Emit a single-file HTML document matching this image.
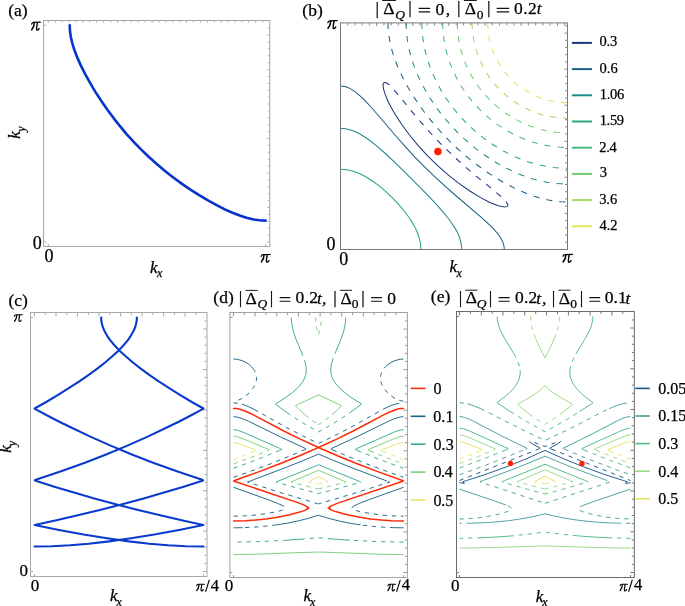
<!DOCTYPE html>
<html><head><meta charset="utf-8"><style>
html,body{margin:0;padding:0;background:#fff;}
svg{display:block;will-change:transform;}
</style></head><body>
<svg width="685" height="606" viewBox="0 0 685 606">
<defs><symbol id="pi" viewBox="0.1 0.02 10.1 8.88" preserveAspectRatio="none" overflow="visible"><g fill="none" stroke="#000" stroke-linecap="round"><path d="M0.7 2.45 C0.95 1.5 1.6 0.8 2.6 0.72 L9.6 0.62" stroke-width="1.2"/>
<path d="M3.5 1.0 C3.45 3.3 2.7 5.7 0.88 7.95" stroke-width="1.5"/>
<path d="M6.6 1.0 C6.3 3.5 5.65 6.0 5.8 7.5 C5.95 8.6 7.3 8.5 8.35 6.75" stroke-width="1.35"/></g></symbol></defs>
<rect width="685" height="606" fill="#fff"/>
<rect x="43.6" y="20.5" width="226.2" height="225.9" fill="none" stroke="#a4a4a4" stroke-width="1"/>
<path d="M48.3 246.4L48.3 243.9M265.6 246.4L265.6 243.9M43.6 242L46.1 242M43.6 25.3L46.1 25.3M48.3 20.5L48.3 23M269.8 242L267.3 242M55.2 20.5L55.2 22.5M269.8 235.1L267.8 235.1M62.1 20.5L62.1 22.5M269.8 228.2L267.8 228.2M69.1 20.5L69.1 22.5M269.8 221.3L267.8 221.3M76 20.5L76 22.5M269.8 214.4L267.8 214.4M82.9 20.5L82.9 23M269.8 207.5L267.3 207.5M89.8 20.5L89.8 22.5M269.8 200.6L267.8 200.6M96.7 20.5L96.7 22.5M269.8 193.7L267.8 193.7M103.6 20.5L103.6 22.5M269.8 186.8L267.8 186.8M110.6 20.5L110.6 22.5M269.8 179.9L267.8 179.9M117.5 20.5L117.5 23M269.8 173L267.3 173M124.4 20.5L124.4 22.5M269.8 166.1L267.8 166.1M131.3 20.5L131.3 22.5M269.8 159.2L267.8 159.2M138.2 20.5L138.2 22.5M269.8 152.3L267.8 152.3M145.1 20.5L145.1 22.5M269.8 145.4L267.8 145.4M152.1 20.5L152.1 23M269.8 138.5L267.3 138.5M159 20.5L159 22.5M269.8 131.6L267.8 131.6M165.9 20.5L165.9 22.5M269.8 124.7L267.8 124.7M172.8 20.5L172.8 22.5M269.8 117.8L267.8 117.8M179.7 20.5L179.7 22.5M269.8 110.9L267.8 110.9M186.6 20.5L186.6 23M269.8 104L267.3 104M193.6 20.5L193.6 22.5M269.8 97.1L267.8 97.1M200.5 20.5L200.5 22.5M269.8 90.2L267.8 90.2M207.4 20.5L207.4 22.5M269.8 83.4L267.8 83.4M214.3 20.5L214.3 22.5M269.8 76.5L267.8 76.5M221.2 20.5L221.2 23M269.8 69.6L267.3 69.6M228.1 20.5L228.1 22.5M269.8 62.7L267.8 62.7M235.1 20.5L235.1 22.5M269.8 55.8L267.8 55.8M242 20.5L242 22.5M269.8 48.9L267.8 48.9M248.9 20.5L248.9 22.5M269.8 42L267.8 42M255.8 20.5L255.8 23M269.8 35.1L267.3 35.1M262.7 20.5L262.7 22.5M269.8 28.2L267.8 28.2" stroke="#b0b0b0" stroke-width="1.0" fill="none"/>
<path d="M69.7 25.3 70 31.3 70.9 37.2 72.4 43.6 74.5 50.3 77.3 57.6 80.8 65.4 85.2 74.1 89.8 82.4 95.2 91.6 101.2 100.8 107.2 109.4 113.6 118.1 120 126.2 126.8 134.3 133.7 141.8 141 149.4 148.4 156.5 156.2 163.5 164.4 170.5 172.6 177 181.3 183.4 190 189.4 199.2 195.2 208.4 200.7 217.1 205.4 225.3 209.6 233.1 213 240.4 215.8 247.3 218 253.7 219.5 259.6 220.3 265.6 220.6" fill="none" stroke="#0633cc" stroke-width="2.6" stroke-linecap="round" stroke-linejoin="round"/>
<path d="M504.6 207 501.7 206.6 498.3 205.7 493.8 204.1 489.8 202.4 480.2 197.4 469.4 190.7 458.6 183.1 448.4 175.1 438.2 166.1 427.9 156.1 418.4 145.8 409.5 135 401.6 124.3 394.6 113.5 391.4 107.8 388.7 102.7 386.5 97.8 384.9 93.7 383.7 89.7 383.1 86.3 383.2 84.1 383.6 83 383.9 82.8" fill="none" stroke="#1a367c" stroke-width="1.05"/>
<path d="M383.9 82.8 384.8 82.5 385.4 82.5 387.1 83.3 389.3 85.1 392.7 88.5 397.8 94.3 414 114.1 423.2 124.8 433.4 136.2 443.8 146.9 454.1 156.7 465.4 166.9 476.2 176.1 496 192.2 501.9 197.3 505.3 200.7 507 203 507.8 204.7 507.9 205.2 507.6 206.1" fill="none" stroke="#1a367c" stroke-width="1.05" stroke-dasharray="6.2 7"/>
<path d="M507.6 206.1 507.3 206.4 506.3 206.8 504.6 207" fill="none" stroke="#1a367c" stroke-width="1.05"/>
<path d="M504.3 249.4 504.1 247.1 503.6 244.3 502.5 241.5 501.1 238.6 499.3 235.8 497.1 233 494.2 229.6 490.9 226.2 480.5 216.6 456.3 196 445 186.1 434.2 176.2 424 166.3 414.9 157.1 405.5 146.9 395 135 372.3 108.5 366 101.7 360.9 96.6 355.3 91.9 350.2 88.6 347.3 87.3 345 86.6 342.8 86.2 340.5 86" fill="none" stroke="#1a6386" stroke-width="1.05"/>
<path d="M388 22.9 388.2 29.7 389 36.5 390.2 43.3 391.9 50.1 394.2 57.4 396.9 64.8 399.9 71.6 403.7 79.5 408.1 87.5 412.8 95.4 418 103.3 423.7 111.2 429.8 119.2 436 126.5 442.6 133.9 449.1 140.7 456.2 147.5 463.1 153.7 470.5 159.9 478.5 166 486.4 171.7 494.4 176.9 502.3 181.7 510.3 186 517.6 189.7 525.6 193.1 533 195.9 540.3 198.2 547.2 199.8 554 201.1 560.8 201.8 567.6 202.1" fill="none" stroke="#1a6386" stroke-width="1.05" stroke-dasharray="6.2 7"/>
<path d="M461.7 249.4 461.6 246.6 461.1 243.2 460.3 239.8 459.1 236.4 457.7 233 455.9 229.6 451.2 222.2 445 214.3 437.1 205.2 426.4 193.9 411.3 178.6 396.1 163.7 384.8 153 375.7 145.1 367.8 139 360.4 134.3 357 132.6 353.6 131.1 350.2 129.9 346.7 129.1 343.3 128.6 340.5 128.5" fill="none" stroke="#218a8a" stroke-width="1.05"/>
<path d="M406.1 22.9 406.3 29.7 406.9 36.5 407.9 43.3 409.4 50.6 411.2 57.4 413.6 64.8 416.2 71.6 419.5 79 423.2 86.3 427 93.1 431.2 99.9 435.8 106.7 440.8 113.5 445.9 119.7 451.4 126 457.5 132.3 463.7 138.3 469.9 143.8 476.2 148.9 483 154 489.8 158.6 497.2 163.2 504 167 511.4 170.6 518.8 173.9 525.6 176.5 533 178.9 539.8 180.7 547.2 182.2 554 183.2 560.8 183.8 567.6 184" fill="none" stroke="#218a8a" stroke-width="1.05" stroke-dasharray="6.2 7"/>
<path d="M420.8 249.4 420.5 243.7 419.1 237.5 416.9 231.3 413.8 225.1 409.6 218.3 404.6 211.5 398.9 204.7 392.2 197.6 385.4 191.2 378.5 185.4 371.7 180.5 364.9 176.3 358.7 173.2 352.4 171 346.2 169.7 340.5 169.3" fill="none" stroke="#2ca585" stroke-width="1.05"/>
<path d="M421.8 22.9 422 29.7 422.6 36.5 423.6 43.3 424.8 49.5 426.5 56.3 428.4 62.5 430.9 69.3 433.5 75.6 436.5 81.8 439.8 88 443.5 94.2 447.6 100.5 452.1 106.7 456.7 112.4 461.4 117.8 466.5 123.2 471.8 128.2 477.3 133.1 483 137.6 489.3 142.2 495.5 146.3 501.7 150.1 508 153.4 514.8 156.7 521 159.3 527.9 161.7 534.1 163.6 540.9 165.3 547.2 166.6 554 167.5 560.8 168.1 567.6 168.3" fill="none" stroke="#2ca585" stroke-width="1.05" stroke-dasharray="6.2 7"/>
<path d="M442.7 22.9 442.9 29.1 443.3 34.8 444.2 41 445.2 46.7 446.6 52.3 448.2 58 450.2 63.7 452.4 69.3 455.1 75 457.7 80.1 460.9 85.5 464.3 90.8 468 95.9 472 101 476 105.6 480.3 110.1 484.7 114.3 489.7 118.6 494.4 122.3 499.5 125.9 504.8 129.4 510.3 132.5 515.4 135.2 521 137.8 526.7 140 532.4 142 538.1 143.6 543.8 145 549.4 146 555.7 146.8 561.4 147.3 567.6 147.5" fill="none" stroke="#4bb97a" stroke-width="1.05" stroke-dasharray="6.2 7"/>
<path d="M457.3 22.9 457.5 28.6 457.9 33.7 458.6 38.8 459.5 43.9 460.6 48.9 462.1 54 463.8 59.1 465.8 64.2 468.1 69.3 470.4 73.9 473.4 78.9 476.2 83.4 479.5 88 482.7 92 486.1 95.9 489.8 99.9 493.8 103.7 497.9 107.3 502.3 110.7 506.9 114 511.4 116.9 515.9 119.5 520.8 122 525.7 124.3 530.7 126.2 535.8 128 540.9 129.4 546.6 130.7 551.7 131.7 556.8 132.3 561.9 132.7 567.6 132.9" fill="none" stroke="#6ecb72" stroke-width="1.05" stroke-dasharray="6.2 7"/>
<path d="M472.1 22.9 472.2 28 472.6 32.5 474 41.6 476.3 50.6 479.4 59.1 483.5 67.6 488.3 75.6 493.8 82.9 497.2 86.8 500.5 90.3 507.4 96.5 514.8 102 522.7 106.8 531.3 110.9 539.8 114 548.9 116.3 557.9 117.7 562.5 118 567.6 118.2" fill="none" stroke="#a8d865" stroke-width="1.05" stroke-dasharray="6.2 7"/>
<path d="M487.6 22.9 488 30.8 489.2 38.8 491.1 46.1 493.7 53.5 497.2 60.7 501.2 67.2 506.2 73.9 511.4 79.5 517.6 85.1 523.9 89.6 530.7 93.6 537.5 96.8 544.9 99.4 552.3 101.2 559.7 102.3 567.6 102.7" fill="none" stroke="#e8e35a" stroke-width="1.05" stroke-dasharray="6.2 7"/>
<circle cx="437.9" cy="151.6" r="3.8" fill="#ff2200"/>
<rect x="340.5" y="22.9" width="227.0" height="226.6" fill="none" stroke="#787878" stroke-width="1"/>
<path d="M347.7 22.9L347.7 25.4M567.5 242.2L565 242.2M355 22.9L355 25.4M567.5 235L565 235M362.2 22.9L362.2 25.4M567.5 227.8L565 227.8M369.4 22.9L369.4 25.4M567.5 220.6L565 220.6M376.6 22.9L376.6 25.9M567.5 213.4L564.5 213.4M383.9 22.9L383.9 25.4M567.5 206.1L565 206.1M391.1 22.9L391.1 25.4M567.5 198.9L565 198.9M398.3 22.9L398.3 25.4M567.5 191.7L565 191.7M405.6 22.9L405.6 25.4M567.5 184.5L565 184.5M412.8 22.9L412.8 25.9M567.5 177.3L564.5 177.3M420 22.9L420 25.4M567.5 170.1L565 170.1M427.2 22.9L427.2 25.4M567.5 162.9L565 162.9M434.5 22.9L434.5 25.4M567.5 155.7L565 155.7M441.7 22.9L441.7 25.4M567.5 148.5L565 148.5M448.9 22.9L448.9 25.9M567.5 141.3L564.5 141.3M456.2 22.9L456.2 25.4M567.5 134L565 134M463.4 22.9L463.4 25.4M567.5 126.8L565 126.8M470.6 22.9L470.6 25.4M567.5 119.6L565 119.6M477.8 22.9L477.8 25.4M567.5 112.4L565 112.4M485.1 22.9L485.1 25.9M567.5 105.2L564.5 105.2M492.3 22.9L492.3 25.4M567.5 98L565 98M499.5 22.9L499.5 25.4M567.5 90.8L565 90.8M506.8 22.9L506.8 25.4M567.5 83.6L565 83.6M514 22.9L514 25.4M567.5 76.4L565 76.4M521.2 22.9L521.2 25.9M567.5 69.2L564.5 69.2M528.4 22.9L528.4 25.4M567.5 61.9L565 61.9M535.7 22.9L535.7 25.4M567.5 54.7L565 54.7M542.9 22.9L542.9 25.4M567.5 47.5L565 47.5M550.1 22.9L550.1 25.4M567.5 40.3L565 40.3M557.4 22.9L557.4 25.9M567.5 33.1L564.5 33.1M564.6 22.9L564.6 25.4M567.5 25.9L565 25.9" stroke="#888" stroke-width="1.0" fill="none"/>
<line x1="571.9" y1="42.9" x2="591.9" y2="42.9" stroke="#1a367c" stroke-width="2"/>
<line x1="571.9" y1="69.1" x2="591.9" y2="69.1" stroke="#1a6386" stroke-width="2"/>
<line x1="571.9" y1="95.3" x2="591.9" y2="95.3" stroke="#218a8a" stroke-width="2"/>
<line x1="571.9" y1="121.5" x2="591.9" y2="121.5" stroke="#2ca585" stroke-width="2"/>
<line x1="571.9" y1="147.7" x2="591.9" y2="147.7" stroke="#4bb97a" stroke-width="2"/>
<line x1="571.9" y1="173.9" x2="591.9" y2="173.9" stroke="#6ecb72" stroke-width="2"/>
<line x1="571.9" y1="200.1" x2="591.9" y2="200.1" stroke="#a8d865" stroke-width="2"/>
<line x1="571.9" y1="226.3" x2="591.9" y2="226.3" stroke="#e8e35a" stroke-width="2"/>
<rect x="30.5" y="312.5" width="176.5" height="264.0" fill="none" stroke="#a8a8a8" stroke-width="1"/>
<path d="M34.5 576.5L34.5 574M203.5 576.5L203.5 574M30.5 571.5L33 571.5M30.5 317.6L33 317.6M34.5 312.5L34.5 316.5M45.3 312.5L45.3 315M56 312.5L56 316.5M66.8 312.5L66.8 315M77.5 312.5L77.5 316.5M88.3 312.5L88.3 315M99.1 312.5L99.1 316.5M109.8 312.5L109.8 315M120.6 312.5L120.6 316.5M131.3 312.5L131.3 315M142.1 312.5L142.1 316.5M152.8 312.5L152.8 315M163.6 312.5L163.6 316.5M174.4 312.5L174.4 315M185.1 312.5L185.1 316.5M195.9 312.5L195.9 315M207 571.5L203 571.5M207 563.4L204.5 563.4M207 555.3L204.5 555.3M207 547.3L204.5 547.3M207 539.2L204.5 539.2M207 531.1L203 531.1M207 523L204.5 523M207 514.9L204.5 514.9M207 506.8L204.5 506.8M207 498.8L204.5 498.8M207 490.7L203 490.7M207 482.6L204.5 482.6M207 474.5L204.5 474.5M207 466.4L204.5 466.4M207 458.4L204.5 458.4M207 450.3L203 450.3M207 442.2L204.5 442.2M207 434.1L204.5 434.1M207 426L204.5 426M207 417.9L204.5 417.9M207 409.9L203 409.9M207 401.8L204.5 401.8M207 393.7L204.5 393.7M207 385.6L204.5 385.6M207 377.5L204.5 377.5M207 369.5L203 369.5M207 361.4L204.5 361.4M207 353.3L204.5 353.3M207 345.2L204.5 345.2M207 337.1L204.5 337.1M207 329L203 329M207 321L204.5 321" stroke="#aaa" stroke-width="1.0" fill="none"/>
<path d="M34.5 546.5 52.2 546.2 70 545.2 88.7 543.7 109 541.4 131 538.3 154.4 534.5 180.3 529.7 203.4 525 181.6 520.3 159.2 515.1 138.1 510 116.7 504.5 95.2 498.7 74.8 492.8 54.3 486.7 34.9 480.5 35.1 480.1 60.4 471.6 84.9 462.7 106.1 454.4 126.8 445.9 147.7 436.6 167.3 427.3 177.7 422.2 188.4 416.7 201.2 409.8 203 408.8 203.4 408.5 191.8 402 180.3 395.1 169.2 388.2 158.7 381.4 149.3 374.9 140.4 368.4 132.6 362.2 125.7 356.3 119.8 350.9 114.9 345.7 110.5 340.6 107.2 335.8 104.5 331 102.6 326.5 102 324.1 101.5 322.1 101.2 319.7 101.2 317.6" fill="none" stroke="#0a3acc" stroke-width="2.1" stroke-linecap="round" stroke-linejoin="round"/>
<path d="M203.5 546.5 185.8 546.2 168 545.2 149.3 543.7 129 541.4 107 538.3 83.6 534.5 57.7 529.7 34.6 525 56.4 520.3 78.8 515.1 99.9 510 121.3 504.5 142.8 498.7 163.2 492.8 183.7 486.7 203.1 480.5 202.9 480.1 177.6 471.6 153.1 462.7 131.9 454.4 111.2 445.9 90.3 436.6 70.7 427.3 60.3 422.2 49.6 416.7 36.8 409.8 35 408.8 34.6 408.5 46.2 402 57.7 395.1 68.8 388.2 79.3 381.4 88.7 374.9 97.6 368.4 105.4 362.2 112.3 356.3 118.2 350.9 123.1 345.7 127.5 340.6 130.8 335.8 133.5 331 135.4 326.5 136 324.1 136.5 322.1 136.8 319.7 136.8 317.6" fill="none" stroke="#0a3acc" stroke-width="2.1" stroke-linecap="round" stroke-linejoin="round"/>
<path d="M233.5 521.9 245.2 521.6 255.8 520.9 266.4 519.8 277.1 518.2 289.8 515.6 300.6 512.8 304.2 511.6 306.8 510.4 307.8 509.6 307.6 509.2 306.8 509.2" fill="none" stroke="#ff2a08" stroke-width="1.5" stroke-linecap="round" transform="matrix(1 0 0 1.0062 0 -4.13)"/>
<path d="M330.2 509.2 329.4 509.2 329.2 509.6 330.2 510.4 332.8 511.6 336.4 512.8 347.2 515.6 359.9 518.2 370.6 519.8 381.2 520.9 391.8 521.6 403.5 521.9" fill="none" stroke="#ff2a08" stroke-width="1.5" stroke-linecap="round" transform="matrix(1 0 0 1.0062 0 -4.13)"/>
<path d="M233.5 482.1 299.9 504.4 305.8 506.8 307.7 508 308.1 508.8 308 509.2 308.9 509.2" fill="none" stroke="#ff2a08" stroke-width="1.5" stroke-linecap="round" transform="matrix(1 0 0 1.0062 0 -4.13)"/>
<path d="M328.1 509.2 329 509.2 328.9 508.8 329.3 508 331.2 506.8 337.1 504.4 403.5 482.1" fill="none" stroke="#ff2a08" stroke-width="1.5" stroke-linecap="round" transform="matrix(1 0 0 1.0062 0 -4.13)"/>
<path d="M234.6 481.7 257.9 473.3 279.2 465.2 299.5 457 318.5 448.8 337.5 457 357.8 465.2 379.1 473.3 402.4 481.7" fill="none" stroke="#ff2a08" stroke-width="1.5" stroke-linecap="round" transform="matrix(1 0 0 1.0062 0 -4.13)"/>
<path d="M319.6 448.8 319.1 448.6 337.2 440.3 352.7 432.7 382.2 417.2 388.6 414.1 392.9 412.3 397.1 410.8 400.3 410.2 403.5 410" fill="none" stroke="#ff2a08" stroke-width="1.5" stroke-linecap="round" transform="matrix(1 0 0 1.0062 0 -4.13)"/>
<path d="M233.5 410 236.7 410.2 239.9 410.8 244.1 412.3 248.4 414.1 254.8 417.2 284.3 432.7 299.8 440.3 317.9 448.6 317.4 448.8" fill="none" stroke="#ff2a08" stroke-width="1.5" stroke-linecap="round" transform="matrix(1 0 0 1.0062 0 -4.13)"/>
<path d="M403.5 527.8 394.3 527.7" fill="none" stroke="#1a6488" stroke-width="0.95"/>
<path d="M394.3 527.7 376.9 526.8 360.5 524.9" fill="none" stroke="#1a6488" stroke-width="0.95" stroke-dasharray="4.3 4.8"/>
<path d="M360.5 524.9 349.3 523.1 338.7 520.9 328.1 518.2 318.5 515.2 308.9 518.2 298.3 520.9 287.7 523.1 276.5 524.9" fill="none" stroke="#1a6488" stroke-width="0.95"/>
<path d="M276.5 524.9 260.1 526.8 242.7 527.7" fill="none" stroke="#1a6488" stroke-width="0.95" stroke-dasharray="4.3 4.8"/>
<path d="M242.7 527.7 233.5 527.8" fill="none" stroke="#1a6488" stroke-width="0.95"/>
<path d="M233.5 516.2 244.1 515.9 254.8 515.1 266.4 513.6 276 511.8 281.5 510.4 283.5 509.6 284.7 508.8 285.1 508 284.8 507.2 283.8 506.4 282 505.4" fill="none" stroke="#1a6488" stroke-width="0.95" stroke-dasharray="4.3 4.8"/>
<path d="M282 505.4 277.2 503.2 267.9 499.6 233.5 487.3" fill="none" stroke="#1a6488" stroke-width="0.95"/>
<path d="M317.3 503.6 318.5 503.9 351.4 494.2 376.9 486.2 389.5 482.1 387 481.1" fill="none" stroke="#1a6488" stroke-width="0.95" stroke-dasharray="4.3 4.8"/>
<path d="M387 481.1 350.4 467.2 333.9 460.6 318.5 454.1 303.1 460.6 286.6 467.2 250 481.1" fill="none" stroke="#1a6488" stroke-width="0.95"/>
<path d="M250 481.1 247.5 482.1 279.2 492.2 317.3 503.6" fill="none" stroke="#1a6488" stroke-width="0.95" stroke-dasharray="4.3 4.8"/>
<path d="M403.5 487.3 369.1 499.6 359.8 503.2 355 505.4" fill="none" stroke="#1a6488" stroke-width="0.95"/>
<path d="M355 505.4 353.2 506.4 352.2 507.2 351.9 508 352.3 508.8 353.5 509.6 355.5 510.4 361 511.8 370.6 513.6 382.2 515.1 392.9 515.9 403.5 516.2" fill="none" stroke="#1a6488" stroke-width="0.95" stroke-dasharray="4.3 4.8"/>
<path d="M233.5 477.3 251.6 470.9 270.5 463.8 288.4 456.6 304.5 449.8" fill="none" stroke="#1a6488" stroke-width="0.95" stroke-dasharray="4.3 4.8"/>
<path d="M304.5 449.8 306 449 305.8 448.6 280.8 437.1 248.4 421.2 244.1 419.3 239.9 417.8 236.7 417 233.5 416.7" fill="none" stroke="#1a6488" stroke-width="0.95"/>
<path d="M403.5 416.7 400.3 417 397.1 417.8 392.9 419.3 388.6 421.2 356.2 437.1 331.2 448.6 331 449 332.5 449.8" fill="none" stroke="#1a6488" stroke-width="0.95"/>
<path d="M332.5 449.8 348.6 456.6 366.5 463.8 385.4 470.9 403.5 477.3" fill="none" stroke="#1a6488" stroke-width="0.95" stroke-dasharray="4.3 4.8"/>
<path d="M233.5 402.9 237.8 403.3 241.9 404.2" fill="none" stroke="#1a6488" stroke-width="0.95" stroke-dasharray="4.3 4.8"/>
<path d="M241.9 404.2 247.3 406.1 254.2 409.4" fill="none" stroke="#1a6488" stroke-width="0.95"/>
<path d="M254.2 409.4 277.8 422.7 289.5 429.1 303.5 436.3 318.5 443.5 333.5 436.3 347.5 429.1 359.2 422.7 382.8 409.4" fill="none" stroke="#1a6488" stroke-width="0.95" stroke-dasharray="4.3 4.8"/>
<path d="M382.8 409.4 389.7 406.1 395.1 404.2" fill="none" stroke="#1a6488" stroke-width="0.95"/>
<path d="M395.1 404.2 399.2 403.3 403.5 402.9" fill="none" stroke="#1a6488" stroke-width="0.95" stroke-dasharray="4.3 4.8"/>
<path d="M403.5 401.1 401.4 400.9 398.2 400 395.7 398.8 392.9 397.1 389.9 394.9 387.6 392.7 385.3 390.1 383.3 387.3 382 384.9 381.1 382.5 380.6 380.1 380.5 377.7 380.7 375.4 381.4 373 382.5 370.6 384 368.4" fill="none" stroke="#1a6488" stroke-width="0.95" stroke-dasharray="4.3 4.8"/>
<path d="M384 368.4 385.6 366.6 387.8 364.6 390.1 363 392.9 361.5 395.1 360.6 398.2 359.7 400.3 359.3 403.5 359.1" fill="none" stroke="#1a6488" stroke-width="0.95"/>
<path d="M233.5 359.1 236.7 359.3 238.8 359.7 241.9 360.6 244.1 361.5 246.9 363 249.2 364.6 251.4 366.6 253 368.4" fill="none" stroke="#1a6488" stroke-width="0.95"/>
<path d="M253 368.4 254.5 370.6 255.6 373 256.3 375.4 256.5 377.7 256.4 380.1 255.9 382.5 255 384.9 253.7 387.3 251.7 390.1 249.4 392.7 247.1 394.9 244.1 397.1 241.3 398.8 238.8 400 235.6 400.9 233.5 401.1" fill="none" stroke="#1a6488" stroke-width="0.95" stroke-dasharray="4.3 4.8"/>
<path d="M403.5 542.1 378 541.6 349.8 540.2" fill="none" stroke="#37ab8b" stroke-width="0.95" stroke-dasharray="4.3 4.8"/>
<path d="M349.8 540.2 332.1 538.9" fill="none" stroke="#37ab8b" stroke-width="0.95"/>
<path d="M332.1 538.9 318.5 537.8 304.9 538.9" fill="none" stroke="#37ab8b" stroke-width="0.95" stroke-dasharray="4.3 4.8"/>
<path d="M304.9 538.9 287.2 540.2" fill="none" stroke="#37ab8b" stroke-width="0.95"/>
<path d="M287.2 540.2 259 541.6 233.5 542.1" fill="none" stroke="#37ab8b" stroke-width="0.95" stroke-dasharray="4.3 4.8"/>
<path d="M317.1 493.2 318.5 493.6 324.9 492 341.9 487.5 358.9 482.7 361 482.1 358.5 481" fill="none" stroke="#37ab8b" stroke-width="0.95" stroke-dasharray="4.3 4.8"/>
<path d="M358.5 481 318.5 464.8 278.5 481" fill="none" stroke="#37ab8b" stroke-width="0.95"/>
<path d="M278.5 481 276 482.1 296.2 487.8 317.1 493.2" fill="none" stroke="#37ab8b" stroke-width="0.95" stroke-dasharray="4.3 4.8"/>
<path d="M233.5 468.3 257.7 459.4 279.7 450.4" fill="none" stroke="#37ab8b" stroke-width="0.95" stroke-dasharray="4.3 4.8"/>
<path d="M279.7 450.4 281.7 449.4 280.3 448.6 243.1 432.2 237.8 430.3 235.6 429.9 233.5 429.7" fill="none" stroke="#37ab8b" stroke-width="0.95"/>
<path d="M403.5 429.7 401.4 429.9 399.2 430.3 393.9 432.2 356.7 448.6 355.3 449.4 357.3 450.4" fill="none" stroke="#37ab8b" stroke-width="0.95"/>
<path d="M357.3 450.4 379.3 459.4 403.5 468.3" fill="none" stroke="#37ab8b" stroke-width="0.95" stroke-dasharray="4.3 4.8"/>
<path d="M291.3 317.6 291.5 321.2 291.9 324.8 293.5 331.9 296.1 339.5 301.3 351.7" fill="none" stroke="#37ab8b" stroke-width="0.95"/>
<path d="M301.3 351.7 303.6 357.4 305.1 362.2" fill="none" stroke="#37ab8b" stroke-width="0.95" stroke-dasharray="4.3 4.8"/>
<path d="M305.1 362.2 305.8 365.4 306.1 368.2 306.2 371 306 373.4 305.4 375.7 304.6 378.1 303.4 380.5 301.9 382.9 300 385.3 297.8 387.7 292.5 392.5 284.9 398.1 275.5 404 275.7 404.4 287 412.6" fill="none" stroke="#37ab8b" stroke-width="0.95"/>
<path d="M287 412.6 294.3 417.6 301.8 422.3 309.9 427.1 318.5 431.9 327.1 427.1 335.2 422.3 342.7 417.6 350 412.6" fill="none" stroke="#37ab8b" stroke-width="0.95" stroke-dasharray="4.3 4.8"/>
<path d="M350 412.6 361.3 404.4 361.5 404 352.1 398.1 344.5 392.5 339.2 387.7 337 385.3 335.1 382.9 333.6 380.5 332.4 378.1 331.6 375.7 331 373.4 330.8 371 330.9 368.2 331.2 365.4 331.9 362.2" fill="none" stroke="#37ab8b" stroke-width="0.95"/>
<path d="M331.9 362.2 333.4 357.4 335.7 351.7" fill="none" stroke="#37ab8b" stroke-width="0.95" stroke-dasharray="4.3 4.8"/>
<path d="M335.7 351.7 340.9 339.5 343.5 331.9 345.1 324.8 345.5 321.2 345.7 317.6" fill="none" stroke="#37ab8b" stroke-width="0.95"/>
<path d="M403.5 554.6 379.1 554.2 337.2 552.6 318.5 552 299.8 552.6 257.9 554.2 233.5 554.6" fill="none" stroke="#7ccf78" stroke-width="0.95"/>
<path d="M318.2 488.9 318.5 488.9 329.1 486.4 345.9 482.1 343.7 481" fill="none" stroke="#7ccf78" stroke-width="0.95" stroke-dasharray="4.3 4.8"/>
<path d="M343.7 481 318.5 470.3 293.3 481" fill="none" stroke="#7ccf78" stroke-width="0.95"/>
<path d="M293.3 481 291.1 482.1 304.7 485.6 318.2 488.9" fill="none" stroke="#7ccf78" stroke-width="0.95" stroke-dasharray="4.3 4.8"/>
<path d="M233.5 464 251.1 457.4 267.1 450.9" fill="none" stroke="#7ccf78" stroke-width="0.95" stroke-dasharray="4.3 4.8"/>
<path d="M267.1 450.9 269.1 449.8 267.6 449 242 438.3 236.7 436.5 233.5 436.1" fill="none" stroke="#7ccf78" stroke-width="0.95"/>
<path d="M403.5 436.1 400.3 436.5 395 438.3 369.4 449 367.9 449.8 369.9 450.9" fill="none" stroke="#7ccf78" stroke-width="0.95"/>
<path d="M369.9 450.9 385.9 457.4 403.5 464" fill="none" stroke="#7ccf78" stroke-width="0.95" stroke-dasharray="4.3 4.8"/>
<path d="M318.1 424.3 318.5 424.6 322.5 421.9 327 418.7 331.8 415" fill="none" stroke="#7ccf78" stroke-width="0.95" stroke-dasharray="4.3 4.8"/>
<path d="M331.8 415 338.6 408.8 341.3 406 341.4 405.6 327.7 399.2 318.5 394.8 309.3 399.2 295.6 405.6 295.7 406 298.4 408.8 305.2 415" fill="none" stroke="#7ccf78" stroke-width="0.95"/>
<path d="M305.2 415 311.2 419.6 318.1 424.3" fill="none" stroke="#7ccf78" stroke-width="0.95" stroke-dasharray="4.3 4.8"/>
<path d="M315.6 317.6 315.8 321.6 316.3 326 317.2 330.3 318.5 335 319.8 330.3 320.7 326 321.2 321.6 321.4 317.6" fill="none" stroke="#7ccf78" stroke-width="0.95" stroke-dasharray="4.3 4.8"/>
<path d="M317.8 483.7 318.5 483.8 319.6 483.6 327.9 482.1 326.7 481.1" fill="none" stroke="#e8e570" stroke-width="0.95" stroke-dasharray="4.3 4.8"/>
<path d="M326.7 481.1 323.8 479.3 318.5 476.6 313.2 479.3 310.3 481.1" fill="none" stroke="#e8e570" stroke-width="0.95"/>
<path d="M310.3 481.1 309.1 482.1 317.8 483.7" fill="none" stroke="#e8e570" stroke-width="0.95" stroke-dasharray="4.3 4.8"/>
<path d="M233.5 459.6 244.4 455.4 254.4 451.3" fill="none" stroke="#e8e570" stroke-width="0.95" stroke-dasharray="4.3 4.8"/>
<path d="M254.4 451.3 255.6 450.6 255.7 450.2 254 449.4 239.9 443.9 236.7 443 233.5 442.5" fill="none" stroke="#e8e570" stroke-width="0.95"/>
<path d="M403.5 442.5 400.3 443 397.1 443.9 383 449.4 381.3 450.2 381.4 450.6 382.6 451.3" fill="none" stroke="#e8e570" stroke-width="0.95"/>
<path d="M382.6 451.3 392.6 455.4 403.5 459.6" fill="none" stroke="#e8e570" stroke-width="0.95" stroke-dasharray="4.3 4.8"/>
<rect x="229.9" y="312.5" width="177.5" height="265.1" fill="none" stroke="#a0a0a0" stroke-width="1"/>
<path d="M233.5 577.6L233.5 575.1M403.5 577.6L403.5 575.1M229.9 572.5L232.4 572.5M229.9 317.6L232.4 317.6M233.5 312.5L233.5 316.5M244.3 312.5L244.3 315M255.1 312.5L255.1 316.5M266 312.5L266 315M276.8 312.5L276.8 316.5M287.6 312.5L287.6 315M298.4 312.5L298.4 316.5M309.3 312.5L309.3 315M320.1 312.5L320.1 316.5M330.9 312.5L330.9 315M341.7 312.5L341.7 316.5M352.5 312.5L352.5 315M363.4 312.5L363.4 316.5M374.2 312.5L374.2 315M385 312.5L385 316.5M395.8 312.5L395.8 315M407.4 572.5L403.4 572.5M407.4 564.4L404.9 564.4M407.4 556.3L404.9 556.3M407.4 548.2L404.9 548.2M407.4 540L404.9 540M407.4 531.9L403.4 531.9M407.4 523.8L404.9 523.8M407.4 515.7L404.9 515.7M407.4 507.6L404.9 507.6M407.4 499.5L404.9 499.5M407.4 491.4L403.4 491.4M407.4 483.2L404.9 483.2M407.4 475.1L404.9 475.1M407.4 467L404.9 467M407.4 458.9L404.9 458.9M407.4 450.8L403.4 450.8M407.4 442.7L404.9 442.7M407.4 434.6L404.9 434.6M407.4 426.5L404.9 426.5M407.4 418.3L404.9 418.3M407.4 410.2L403.4 410.2M407.4 402.1L404.9 402.1M407.4 394L404.9 394M407.4 385.9L404.9 385.9M407.4 377.8L404.9 377.8M407.4 369.7L403.4 369.7M407.4 361.5L404.9 361.5M407.4 353.4L404.9 353.4M407.4 345.3L404.9 345.3M407.4 337.2L404.9 337.2M407.4 329.1L403.4 329.1M407.4 321L404.9 321" stroke="#999" stroke-width="1.0" fill="none"/>
<line x1="410.8" y1="388.4" x2="425.5" y2="388.4" stroke="#ff2a08" stroke-width="1.6"/>
<line x1="410.8" y1="416.3" x2="425.5" y2="416.3" stroke="#1a6488" stroke-width="1.6"/>
<line x1="410.8" y1="444.2" x2="425.5" y2="444.2" stroke="#37ab8b" stroke-width="1.6"/>
<line x1="410.8" y1="472.1" x2="425.5" y2="472.1" stroke="#7ccf78" stroke-width="1.6"/>
<line x1="410.8" y1="500" x2="425.5" y2="500" stroke="#e8e570" stroke-width="1.6"/>
<path d="M630.5 482.6 627.3 483.3 625.5 483.3 625.8 482.9 627.1 482.1 627.2 481.7" fill="none" stroke="#1d5489" stroke-width="0.95"/>
<path d="M627.2 481.7 623.7 480.6" fill="none" stroke="#1d5489" stroke-width="0.95" stroke-dasharray="4.3 4.8"/>
<path d="M623.7 480.6 604.9 474.6 583.5 466.8 563 458.5 545 450.4 527 458.5 506.5 466.8 485.1 474.6 466.3 480.6" fill="none" stroke="#1d5489" stroke-width="0.95"/>
<path d="M466.3 480.6 462.8 481.7" fill="none" stroke="#1d5489" stroke-width="0.95" stroke-dasharray="4.3 4.8"/>
<path d="M462.8 481.7 462.9 482.1 464.2 482.9 464.5 483.3 462.7 483.3 459.5 482.6" fill="none" stroke="#1d5489" stroke-width="0.95"/>
<path d="M459.5 480.5 538.3 449.2" fill="none" stroke="#1d5489" stroke-width="0.95" stroke-dasharray="4.3 4.8"/>
<path d="M538.3 449.2 539.9 448.5 540.2 448.1 532.4 443.8" fill="none" stroke="#1d5489" stroke-width="0.95"/>
<path d="M532.4 443.8 529.9 442.1 529.5 441.7 529.5 441.3 530 441.2 534.3 442.5 545 446.5 555.7 442.5 560 441.2 560.5 441.3 560.5 441.7 560.1 442.1 557.6 443.8" fill="none" stroke="#1d5489" stroke-width="0.95" stroke-dasharray="4.3 4.8"/>
<path d="M557.6 443.8 549.8 448.1 550.1 448.5 551.7 449.2" fill="none" stroke="#1d5489" stroke-width="0.95"/>
<path d="M551.7 449.2 630.5 480.5" fill="none" stroke="#1d5489" stroke-width="0.95" stroke-dasharray="4.3 4.8"/>
<path d="M630.5 523.3 619.2 523.2" fill="none" stroke="#46a09e" stroke-width="0.95" stroke-dasharray="4.3 4.8"/>
<path d="M619.2 523.2 608.8 522.9 599.5 522.4 591 521.7 580.2 520.5 571.7 519.3 562.1 517.6 552.8 515.7 545 513.8 537.2 515.7 527.9 517.6 518.3 519.3 509.8 520.5 499 521.7 490.5 522.4 481.2 522.9 470.8 523.2" fill="none" stroke="#46a09e" stroke-width="0.95"/>
<path d="M470.8 523.2 459.5 523.3" fill="none" stroke="#46a09e" stroke-width="0.95" stroke-dasharray="4.3 4.8"/>
<path d="M459.5 519 470.2 518.6 481.9 517.4 492.6 515.5 499 514.1 504.4 512.6 507.6 511.5 510 510.5 511.2 509.7 511.7 508.9 511.5 508.1 510.6 507.3 508.4 506.1 506.1 505.1" fill="none" stroke="#46a09e" stroke-width="0.95" stroke-dasharray="4.3 4.8"/>
<path d="M506.1 505.1 494.4 500.9 459.5 489.1" fill="none" stroke="#46a09e" stroke-width="0.95"/>
<path d="M545 503.3 587.8 489.4 609.6 482.1 610.1 481.7 607.5 480.7" fill="none" stroke="#46a09e" stroke-width="0.95" stroke-dasharray="4.3 4.8"/>
<path d="M607.5 480.7 574.9 468.5 560 462.5 545 456.2 530 462.5 515.1 468.5 482.5 480.7" fill="none" stroke="#46a09e" stroke-width="0.95"/>
<path d="M482.5 480.7 479.9 481.7 480.4 482.1 545 503.3" fill="none" stroke="#46a09e" stroke-width="0.95" stroke-dasharray="4.3 4.8"/>
<path d="M630.5 489.1 595.6 500.9 583.9 505.1" fill="none" stroke="#46a09e" stroke-width="0.95"/>
<path d="M583.9 505.1 581.6 506.1 579.4 507.3 578.5 508.1 578.3 508.9 578.8 509.7 580 510.5 582.4 511.5 585.6 512.6 591 514.1 597.4 515.5 608.1 517.4 619.8 518.6 630.5 519" fill="none" stroke="#46a09e" stroke-width="0.95" stroke-dasharray="4.3 4.8"/>
<path d="M459.5 474.8 476.6 468.6 493.7 462.1 509.8 455.7 525.4 449.2" fill="none" stroke="#46a09e" stroke-width="0.95" stroke-dasharray="4.3 4.8"/>
<path d="M525.4 449.2 526.8 448.5 526.7 448.1 501.9 436.1 472.3 420.6 468.1 418.6 464.8 417.5 461.6 416.7 459.5 416.6" fill="none" stroke="#46a09e" stroke-width="0.95"/>
<path d="M630.5 416.6 628.4 416.7 625.2 417.5 622 418.6 617.7 420.6 588.1 436.1 563.3 448.1 563.2 448.5 564.6 449.2" fill="none" stroke="#46a09e" stroke-width="0.95"/>
<path d="M564.6 449.2 580.2 455.7 596.3 462.1 613.4 468.6 630.5 474.8" fill="none" stroke="#46a09e" stroke-width="0.95" stroke-dasharray="4.3 4.8"/>
<path d="M459.5 402.8 463.8 403.1 467.4 403.8" fill="none" stroke="#46a09e" stroke-width="0.95" stroke-dasharray="4.3 4.8"/>
<path d="M467.4 403.8 473.4 405.6 480.6 408.6" fill="none" stroke="#46a09e" stroke-width="0.95"/>
<path d="M480.6 408.6 488.4 412.4 519.7 428.5 545 440.5 570.3 428.5 601.6 412.4 609.4 408.6" fill="none" stroke="#46a09e" stroke-width="0.95" stroke-dasharray="4.3 4.8"/>
<path d="M609.4 408.6 616.6 405.6 622.6 403.8" fill="none" stroke="#46a09e" stroke-width="0.95"/>
<path d="M622.6 403.8 626.2 403.1 630.5 402.8" fill="none" stroke="#46a09e" stroke-width="0.95" stroke-dasharray="4.3 4.8"/>
<path d="M630.5 538.3 608.6 537.8" fill="none" stroke="#4dba82" stroke-width="0.95" stroke-dasharray="4.3 4.8"/>
<path d="M608.6 537.8 593.1 537 577.1 535.8" fill="none" stroke="#4dba82" stroke-width="0.95"/>
<path d="M577.1 535.8 561 534.1 545 532 529 534.1 512.9 535.8" fill="none" stroke="#4dba82" stroke-width="0.95" stroke-dasharray="4.3 4.8"/>
<path d="M512.9 535.8 496.9 537 481.4 537.8" fill="none" stroke="#4dba82" stroke-width="0.95"/>
<path d="M481.4 537.8 459.5 538.3" fill="none" stroke="#4dba82" stroke-width="0.95" stroke-dasharray="4.3 4.8"/>
<path d="M543.9 493.7 545 494 554.6 491.5 570.6 487 587.4 482.1 588.1 481.7 585.4 480.6" fill="none" stroke="#4dba82" stroke-width="0.95" stroke-dasharray="4.3 4.8"/>
<path d="M585.4 480.6 545 464.3 504.6 480.6" fill="none" stroke="#4dba82" stroke-width="0.95"/>
<path d="M504.6 480.6 501.9 481.7 502.6 482.1 523.6 488.2 543.9 493.7" fill="none" stroke="#4dba82" stroke-width="0.95" stroke-dasharray="4.3 4.8"/>
<path d="M459.5 467.9 483.9 458.9 506 449.9" fill="none" stroke="#4dba82" stroke-width="0.95" stroke-dasharray="4.3 4.8"/>
<path d="M506 449.9 508.2 448.9 508 448.5 507.1 448.1 469.1 430.8 463.8 428.9 461.6 428.4 459.5 428.2" fill="none" stroke="#4dba82" stroke-width="0.95"/>
<path d="M630.5 428.2 628.4 428.4 626.2 428.9 620.9 430.8 582.9 448.1 582 448.5 581.8 448.9 584 449.9" fill="none" stroke="#4dba82" stroke-width="0.95"/>
<path d="M584 449.9 606.1 458.9 630.5 467.9" fill="none" stroke="#4dba82" stroke-width="0.95" stroke-dasharray="4.3 4.8"/>
<path d="M497.1 316.5 497.3 319.7 498 323.3 499 326.9 500.6 330.9 504.7 338.5 514.1 354" fill="none" stroke="#4dba82" stroke-width="0.95"/>
<path d="M514.1 354 516.5 358.5 518.3 362.7 519.5 366.5 520.1 370.1" fill="none" stroke="#4dba82" stroke-width="0.95" stroke-dasharray="4.3 4.8"/>
<path d="M520.1 370.1 520.2 374.1 519.4 378.1 517.8 382.1 515.6 385.7 512.4 389.7 508.4 393.7 503.1 398.1 497.1 402.5 497.1 402.9 510.3 411.5" fill="none" stroke="#4dba82" stroke-width="0.95"/>
<path d="M510.3 411.5 518.8 416.9 527.5 422.1 545 431.7 562.5 422.1 571.2 416.9 579.7 411.5" fill="none" stroke="#4dba82" stroke-width="0.95" stroke-dasharray="4.3 4.8"/>
<path d="M579.7 411.5 592.9 402.9 592.9 402.5 586.9 398.1 581.6 393.7 577.6 389.7 574.4 385.7 572.2 382.1 570.6 378.1 569.8 374.1 569.9 370.1" fill="none" stroke="#4dba82" stroke-width="0.95"/>
<path d="M569.9 370.1 570.5 366.5 571.7 362.7 573.5 358.5 575.9 354" fill="none" stroke="#4dba82" stroke-width="0.95" stroke-dasharray="4.3 4.8"/>
<path d="M575.9 354 585.3 338.5 589.4 330.9 591 326.9 592 323.3 592.7 319.7 592.9 316.5" fill="none" stroke="#4dba82" stroke-width="0.95"/>
<path d="M630.5 548.1 599.5 547.6 545 545.9 490.5 547.6 459.5 548.1" fill="none" stroke="#98d985" stroke-width="0.95"/>
<path d="M544.5 488.9 545 489 553.5 487 572.1 482.1 572.9 481.7 570.4 480.6" fill="none" stroke="#98d985" stroke-width="0.95" stroke-dasharray="4.3 4.8"/>
<path d="M570.4 480.6 545 469.9 519.6 480.6" fill="none" stroke="#98d985" stroke-width="0.95"/>
<path d="M519.6 480.6 517.1 481.7 517.9 482.1 531.1 485.6 544.5 488.9" fill="none" stroke="#98d985" stroke-width="0.95" stroke-dasharray="4.3 4.8"/>
<path d="M459.5 463.5 477.2 456.9 493.8 450.1" fill="none" stroke="#98d985" stroke-width="0.95" stroke-dasharray="4.3 4.8"/>
<path d="M493.8 450.1 495.5 449.3 495.2 448.9 493.7 448.2 468.1 437.2 462.7 435.4 459.5 435" fill="none" stroke="#98d985" stroke-width="0.95"/>
<path d="M630.5 435 627.3 435.4 622 437.2 596.3 448.2 594.8 448.9 594.5 449.3 596.2 450.1" fill="none" stroke="#98d985" stroke-width="0.95"/>
<path d="M596.2 450.1 612.8 456.9 630.5 463.5" fill="none" stroke="#98d985" stroke-width="0.95" stroke-dasharray="4.3 4.8"/>
<path d="M544.9 424.5 552 420.1 560.8 413.9" fill="none" stroke="#98d985" stroke-width="0.95" stroke-dasharray="4.3 4.8"/>
<path d="M560.8 413.9 570.7 406.1 572.5 404.5 572.3 404.1 563 398.9 555.2 394.1 549.2 389.7 545 385.6 540.8 389.7 534.8 394.1 527 398.9 517.7 404.1 517.5 404.5 519.3 406.1 529.2 413.9" fill="none" stroke="#98d985" stroke-width="0.95"/>
<path d="M529.2 413.9 536.8 419.3 544.9 424.5" fill="none" stroke="#98d985" stroke-width="0.95" stroke-dasharray="4.3 4.8"/>
<path d="M530.6 316.5 530.9 321.7 531.9 327.3 533.5 332.9 535.7 338.7" fill="none" stroke="#98d985" stroke-width="0.95" stroke-dasharray="4.3 4.8"/>
<path d="M535.7 338.7 540.8 349.5" fill="none" stroke="#98d985" stroke-width="0.95"/>
<path d="M540.8 349.5 542.1 352" fill="none" stroke="#98d985" stroke-width="0.95" stroke-dasharray="4.3 4.8"/>
<path d="M542.1 352 545 357.9 547.9 352" fill="none" stroke="#98d985" stroke-width="0.95"/>
<path d="M547.9 352 549.2 349.5" fill="none" stroke="#98d985" stroke-width="0.95" stroke-dasharray="4.3 4.8"/>
<path d="M549.2 349.5 554.3 338.7" fill="none" stroke="#98d985" stroke-width="0.95"/>
<path d="M554.3 338.7 556.5 332.9 558.1 327.3 559.1 321.7 559.4 316.5" fill="none" stroke="#98d985" stroke-width="0.95" stroke-dasharray="4.3 4.8"/>
<path d="M544.7 483.7 550.3 482.8 555.1 481.7 553.4 480.6" fill="none" stroke="#e8e35e" stroke-width="0.95" stroke-dasharray="4.3 4.8"/>
<path d="M553.4 480.6 545 476.2 536.6 480.6" fill="none" stroke="#e8e35e" stroke-width="0.95"/>
<path d="M536.6 480.6 534.9 481.7 536.5 482.2 544.7 483.7" fill="none" stroke="#e8e35e" stroke-width="0.95" stroke-dasharray="4.3 4.8"/>
<path d="M459.5 459.1 470.5 454.9 480.5 450.7" fill="none" stroke="#e8e35e" stroke-width="0.95" stroke-dasharray="4.3 4.8"/>
<path d="M480.5 450.7 481.9 450.1 482.2 449.7 480.9 449 465.9 443.1 462.7 442.1 459.5 441.6" fill="none" stroke="#e8e35e" stroke-width="0.95"/>
<path d="M630.5 441.6 627.3 442.1 624.1 443.1 609.1 449 607.8 449.7 608.1 450.1 609.5 450.7" fill="none" stroke="#e8e35e" stroke-width="0.95"/>
<path d="M609.5 450.7 619.5 454.9 630.5 459.1" fill="none" stroke="#e8e35e" stroke-width="0.95" stroke-dasharray="4.3 4.8"/>
<rect x="456.5" y="311.5" width="177.8" height="266.0" fill="none" stroke="#6a6a6a" stroke-width="1"/>
<path d="M459.5 577.5L459.5 575M630.5 577.5L630.5 575M456.5 572.5L459 572.5M456.5 316.5L459 316.5M459.5 311.5L459.5 315.5M470.4 311.5L470.4 314M481.3 311.5L481.3 315.5M492.2 311.5L492.2 314M503 311.5L503 315.5M513.9 311.5L513.9 314M524.8 311.5L524.8 315.5M535.7 311.5L535.7 314M546.6 311.5L546.6 315.5M557.5 311.5L557.5 314M568.4 311.5L568.4 315.5M579.2 311.5L579.2 314M590.1 311.5L590.1 315.5M601 311.5L601 314M611.9 311.5L611.9 315.5M622.8 311.5L622.8 314M634.3 572.5L630.3 572.5M634.3 564.4L631.8 564.4M634.3 556.2L631.8 556.2M634.3 548.1L631.8 548.1M634.3 539.9L631.8 539.9M634.3 531.8L630.3 531.8M634.3 523.6L631.8 523.6M634.3 515.5L631.8 515.5M634.3 507.3L631.8 507.3M634.3 499.2L631.8 499.2M634.3 491L630.3 491M634.3 482.9L631.8 482.9M634.3 474.7L631.8 474.7M634.3 466.6L631.8 466.6M634.3 458.4L631.8 458.4M634.3 450.3L630.3 450.3M634.3 442.1L631.8 442.1M634.3 434L631.8 434M634.3 425.8L631.8 425.8M634.3 417.7L631.8 417.7M634.3 409.5L630.3 409.5M634.3 401.4L631.8 401.4M634.3 393.2L631.8 393.2M634.3 385.1L631.8 385.1M634.3 376.9L631.8 376.9M634.3 368.8L630.3 368.8M634.3 360.6L631.8 360.6M634.3 352.5L631.8 352.5M634.3 344.3L631.8 344.3M634.3 336.2L631.8 336.2M634.3 328L630.3 328M634.3 319.9L631.8 319.9" stroke="#777" stroke-width="1.0" fill="none"/>
<line x1="635.3" y1="388.4" x2="649.8" y2="388.4" stroke="#1d5489" stroke-width="1.6"/>
<line x1="635.3" y1="416" x2="649.8" y2="416" stroke="#46a09e" stroke-width="1.6"/>
<line x1="635.3" y1="443.6" x2="649.8" y2="443.6" stroke="#4dba82" stroke-width="1.6"/>
<line x1="635.3" y1="471.2" x2="649.8" y2="471.2" stroke="#98d985" stroke-width="1.6"/>
<line x1="635.3" y1="498.8" x2="649.8" y2="498.8" stroke="#e8e35e" stroke-width="1.6"/>
<circle cx="510.4" cy="463.5" r="2.7" fill="#ff2200"/>
<circle cx="582.0" cy="463.5" r="2.7" fill="#ff2200"/>
<g font-family="Liberation Serif" fill="#000" stroke="#000" stroke-width="0.25">
<text x="8.25" y="15.82" font-size="17.5">(a)</text>
<use href="#pi" x="31" y="21.6" width="9.9" height="9.2"/>
<text x="32.63" y="249.38" font-size="18">0</text>
<text x="44.40" y="261.61" font-size="18">0</text>
<use href="#pi" x="260.6" y="253.9" width="10.2" height="8.9"/>
<text x="20.30" y="138.75" font-size="17" font-style="italic" transform="rotate(-90 20.30 138.75)">k</text>
<text x="24.80" y="131.75" font-size="12" font-style="italic" transform="rotate(-90 24.80 131.75)">y</text>
<text x="150.01" y="272.50" font-size="17" font-style="italic">k</text>
<text x="156.91" y="276.70" font-size="12" font-style="italic">x</text>
<text x="302.35" y="15.52" font-size="17.5">(b)</text>
<use href="#pi" x="327.2" y="20.1" width="10.5" height="9.2"/>
<text x="326.48" y="250.13" font-size="18">0</text>
<text x="339.15" y="264.61" font-size="18">0</text>
<use href="#pi" x="562.3" y="253.8" width="10.7" height="9.1"/>
<text x="449.49" y="272.47" font-size="17" font-style="italic">k</text>
<text x="456.39" y="276.57" font-size="12" font-style="italic">x</text>
<text x="375.50" y="13.53" font-size="17.5">|</text>
<text x="383.15" y="14.40" font-size="17.5">Δ</text>
<line x1="382.2" y1="0.5" x2="395.9" y2="0.5" stroke="#000" stroke-width="0.9"/>
<text x="395.30" y="18.52" font-size="13.5" font-style="italic">Q</text>
<text x="408.18" y="13.35" font-size="17.5">|</text>
<path d="M419.1 8.3H429.8M419.1 11.8H429.8" stroke="#111" stroke-width="1.15" stroke-linecap="round"/>
<text x="435.53" y="14.76" font-size="17.5" textLength="14.55" lengthAdjust="spacing">0,</text>
<text x="456.95" y="13.15" font-size="17.5">|</text>
<text x="464.66" y="14.15" font-size="17.5">Δ</text>
<line x1="463.9" y1="0.5" x2="476.7" y2="0.5" stroke="#000" stroke-width="0.9"/>
<text x="476.81" y="18.89" font-size="13.5">0</text>
<text x="486.88" y="13.28" font-size="17.5">|</text>
<path d="M497.1 8.3H508.7M497.1 11.8H508.7" stroke="#111" stroke-width="1.15" stroke-linecap="round"/>
<text x="513.92" y="14.35" font-size="17.5" textLength="22.79" lengthAdjust="spacing">0.2</text>
<text x="536.63" y="14.25" font-size="17.5" font-style="italic">t</text>
<text x="599.41" y="46.38" font-size="14.5" textLength="17.78" lengthAdjust="spacing">0.3</text>
<text x="599.60" y="73.46" font-size="14.5" textLength="18.15" lengthAdjust="spacing">0.6</text>
<text x="599.71" y="99.38" font-size="14.5" textLength="24.58" lengthAdjust="spacing">1.06</text>
<text x="599.64" y="124.97" font-size="14.5" textLength="24.45" lengthAdjust="spacing">1.59</text>
<text x="599.27" y="151.86" font-size="14.5" textLength="17.52" lengthAdjust="spacing">2.4</text>
<text x="599.73" y="177.38" font-size="14.5">3</text>
<text x="599.17" y="203.58" font-size="14.5" textLength="17.99" lengthAdjust="spacing">3.6</text>
<text x="599.51" y="230.46" font-size="14.5" textLength="17.99" lengthAdjust="spacing">4.2</text>
<text x="8.45" y="306.37" font-size="17.5">(c)</text>
<use href="#pi" x="13.9" y="314.2" width="8.9" height="7.9"/>
<text x="19.49" y="575.54" font-size="17">0</text>
<text x="30.72" y="590.94" font-size="17">0</text>
<use href="#pi" x="196.1" y="583.7" width="8.8" height="7.8"/>
<path d="M209.20 580.10L205.70 591.40" stroke="#000" stroke-width="1.15" stroke-linecap="round"/>
<text x="210.74" y="590.93" font-size="16.5">4</text>
<text x="11.50" y="452.79" font-size="17" font-style="italic" transform="rotate(-90 11.50 452.79)">k</text>
<text x="16.00" y="446.19" font-size="12" font-style="italic" transform="rotate(-90 16.00 446.19)">y</text>
<text x="109.99" y="601.45" font-size="17" font-style="italic">k</text>
<text x="116.49" y="605.55" font-size="12" font-style="italic">x</text>
<text x="213.36" y="303.02" font-size="17.5">(d)</text>
<text x="238.71" y="303.25" font-size="17.5">|</text>
<text x="245.57" y="303.72" font-size="17.5">Δ</text>
<line x1="245.5" y1="290.4" x2="257.7" y2="290.4" stroke="#000" stroke-width="0.9"/>
<text x="257.54" y="308.24" font-size="13.5" font-style="italic">Q</text>
<text x="269.69" y="303.29" font-size="17.5">|</text>
<path d="M280.1 297.6H289.9M280.1 301.2H289.9" stroke="#111" stroke-width="1.15" stroke-linecap="round"/>
<text x="295.57" y="303.45" font-size="17.5" textLength="22.49" lengthAdjust="spacing">0.2</text>
<text x="316.97" y="303.89" font-size="17.5" font-style="italic" textLength="9.43" lengthAdjust="spacing">t,</text>
<text x="333.24" y="303.33" font-size="17.5">|</text>
<text x="340.38" y="303.94" font-size="17.5">Δ</text>
<line x1="339.9" y1="290.3" x2="352.0" y2="290.3" stroke="#000" stroke-width="0.9"/>
<text x="351.79" y="307.75" font-size="13.5">0</text>
<text x="361.15" y="303.32" font-size="17.5">|</text>
<path d="M371.5 297.6H381.5M371.5 301.2H381.5" stroke="#111" stroke-width="1.15" stroke-linecap="round"/>
<text x="387.20" y="303.74" font-size="17.5">0</text>
<text x="224.65" y="590.84" font-size="17">0</text>
<use href="#pi" x="387.3" y="583.7" width="8.7" height="7.8"/>
<path d="M400.20 580.20L396.70 591.30" stroke="#000" stroke-width="1.15" stroke-linecap="round"/>
<text x="401.74" y="590.43" font-size="16.5">4</text>
<text x="303.61" y="601.40" font-size="17" font-style="italic">k</text>
<text x="310.11" y="605.50" font-size="12" font-style="italic">x</text>
<text x="433.40" y="394.09" font-size="16">0</text>
<text x="433.22" y="422.35" font-size="16" textLength="20.28" lengthAdjust="spacing">0.1</text>
<text x="433.50" y="449.94" font-size="16" textLength="20.18" lengthAdjust="spacing">0.3</text>
<text x="433.42" y="477.26" font-size="16" textLength="19.39" lengthAdjust="spacing">0.4</text>
<text x="433.51" y="505.82" font-size="16" textLength="19.64" lengthAdjust="spacing">0.5</text>
<text x="430.85" y="302.37" font-size="17.5">(e)</text>
<text x="458.75" y="303.31" font-size="17.5">|</text>
<text x="465.69" y="303.34" font-size="17.5">Δ</text>
<line x1="465.2" y1="290.2" x2="477.5" y2="290.2" stroke="#000" stroke-width="0.9"/>
<text x="476.83" y="307.52" font-size="13.5" font-style="italic">Q</text>
<text x="488.75" y="303.31" font-size="17.5">|</text>
<path d="M499.0 297.6H509.3M499.0 301.2H509.3" stroke="#111" stroke-width="1.15" stroke-linecap="round"/>
<text x="515.12" y="303.45" font-size="17.5" textLength="22.09" lengthAdjust="spacing">0.2</text>
<text x="536.36" y="303.93" font-size="17.5" font-style="italic" textLength="9.89" lengthAdjust="spacing">t,</text>
<text x="551.81" y="303.00" font-size="17.5">|</text>
<text x="558.63" y="303.79" font-size="17.5">Δ</text>
<line x1="558.5" y1="290.2" x2="570.5" y2="290.2" stroke="#000" stroke-width="0.9"/>
<text x="570.13" y="307.76" font-size="13.5">0</text>
<text x="579.75" y="303.06" font-size="17.5">|</text>
<path d="M589.7 297.6H599.7M589.7 301.2H599.7" stroke="#111" stroke-width="1.15" stroke-linecap="round"/>
<text x="604.80" y="303.45" font-size="17.5" textLength="21.89" lengthAdjust="spacing">0.1</text>
<text x="625.44" y="304.18" font-size="17.5" font-style="italic">t</text>
<text x="451.08" y="591.41" font-size="17">0</text>
<use href="#pi" x="619.5" y="583.7" width="8.6" height="7.8"/>
<path d="M632.20 580.20L628.70 591.30" stroke="#000" stroke-width="1.15" stroke-linecap="round"/>
<text x="633.94" y="590.43" font-size="16.5">4</text>
<text x="535.81" y="602.03" font-size="17" font-style="italic">k</text>
<text x="542.31" y="606.23" font-size="12" font-style="italic">x</text>
<text x="658.30" y="393.70" font-size="16">0.05</text>
<text x="658.30" y="421.30" font-size="16">0.15</text>
<text x="658.30" y="448.90" font-size="16">0.3</text>
<text x="658.30" y="476.50" font-size="16">0.4</text>
<text x="658.30" y="504.10" font-size="16">0.5</text>
</g>
</svg>
</body></html>
